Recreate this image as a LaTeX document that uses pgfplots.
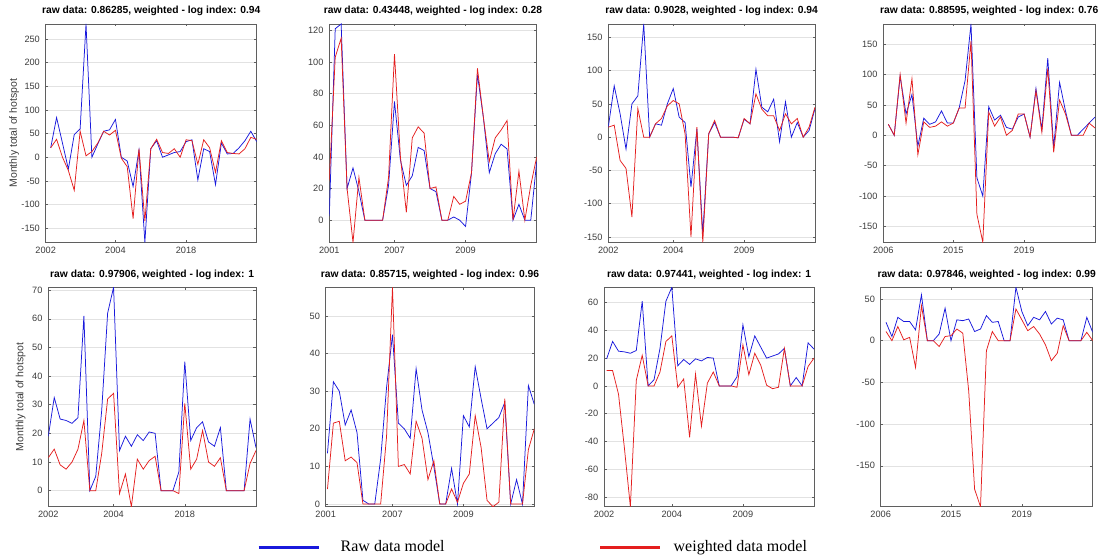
\documentclass[border=0pt]{standalone}
\usepackage{pgfplots}
\pgfplotsset{compat=1.18}
\usepackage{pgfplotstable}
\usepackage{fontspec}
\setmainfont{Liberation Serif}
\newfontfamily\arial{Liberation Sans}
\definecolor{rawblue}{RGB}{25,25,220}
\definecolor{wred}{RGB}{228,30,30}
\definecolor{axgray}{RGB}{95,95,95}
\definecolor{gridgray}{RGB}{226,226,226}
\definecolor{lblgray}{RGB}{60,60,60}

\pgfplotstableread{
x r w
1 20 20
2 84 38
3 30 0
4 -25 -28
5 48 -70
6 60 55
7 282 3
8 0 12
9 28 30
10 55 55
11 58 47
12 80 57
13 0 -2
14 -8 -20
15 -62 -130
16 15 18
17 -180 -135
18 18 18
19 35 38
20 0 10
21 5 8
22 10 18
23 12 0
24 33 37
25 37 35
26 -48 -15
27 18 37
28 12 20
29 -58 -32
30 30 35
31 7 10
32 8 8
33 20 7
34 35 18
35 55 42
36 33 38
}\tA

\pgfplotstableread{
x r w
1 2.5 25
2 121 103
3 124 115
4 20 20
5 33 -14
6 18 27
7 0 0
8 0 0
9 0 0
10 0 0
11 22 27
12 75 105
13 38 40
14 22 5
15 28 52
16 46 59
17 44 55
18 20 20
19 18 21
20 0 0
21 0 0
22 2 15
23 0 10
24 -4 12
25 30 30
26 92 96
27 65 65
28 30 37
29 42 52
30 48 57
31 45 63
32 0 0
33 10 31
34 0 0
35 0 22
36 37 40
}\tB

\pgfplotstableread{
x r w
1 15 15
2 77 18
3 35 -35
4 -18 -47
5 50 -120
6 62 43
7 170 0
8 0 0
9 20 20
10 18 28
11 50 47
12 73 55
13 30 50
14 22 5
15 -75 -150
16 12 15
17 -145 -158
18 5 5
19 22 25
20 0 0
21 0 0
22 0 0
23 -1 -1
24 27 28
25 20 20
26 102 65
27 45 42
28 38 32
29 57 32
30 -7 10
31 53 35
32 0 20
33 22 28
34 0 0
35 10 15
36 43 45
}\tC

\pgfplotstableread{
x r w
1 18 18
2 0 0
3 97 100
4 35 20
5 67 93
6 -18 -32
7 28 22
8 18 13
9 22 15
10 40 22
11 20 15
12 20 20
13 45 45
14 90 45
15 183 155
16 -70 -130
17 -100 -176
18 47 38
19 25 15
20 33 30
21 13 0
22 10 8
23 30 35
24 35 35
25 -3 -3
26 77 73
27 10 5
28 127 110
29 -20 -28
30 87 58
31 40 35
32 0 0
33 0 0
34 10 0
35 20 20
36 30 12
}\tD

\pgfplotstableread{
x r w
1 19 11.5
2 32.5 14.5
3 25 9
4 24.5 7.5
5 23.5 10
6 25.5 14.5
7 61 24.5
8 0 0
9 5 0
10 28 13
11 62 32
12 71 34
13 14 -1
14 19 5.8
15 15.5 -5.6
16 19.5 11
17 17.5 7.5
18 20.5 10.5
19 20 12
20 0 0
21 0 0
22 0 0
23 6.5 -1
24 45 30.5
25 17.5 7.5
26 22 11
27 24 21
28 17 10
29 15.5 8.5
30 22 11.5
31 0 0
32 0 0
33 0 0
34 0 0
35 25 9.5
36 15 14
}\tE

\pgfplotstableread{
x r w
1 13.5 4
2 32.5 21.5
3 30 22
4 21 11.5
5 25 12.5
6 19 11
7 1 0
8 0 0
9 0 0
10 12 0
11 31 18
12 45 57.6
13 21.5 10
14 20 10.5
15 17.5 8
16 36 22
17 25 17.5
18 19 6.5
19 10 11.5
20 0 0
21 0 0
22 9.5 4
23 0 0.5
24 23.5 5.5
25 20.5 8
26 36.5 23.5
27 28 15
28 20 1
29 21.5 -0.7
30 23 0.5
31 27 28
32 0 0
33 6.5 0
34 0 0
35 31.5 14.5
36 26.5 20
}\tF

\pgfplotstableread{
x r w
1 19.5 11
2 32 11
3 25 -6
4 24.5 -45
5 23.5 -87
6 25.5 4
7 61 22
8 0 0
9 4.5 0
10 27 10
11 61 32
12 71 36
13 14.5 -1
14 19 5
15 15.5 -37
16 19.5 8.5
17 18 -29
18 20.5 2
19 20 10
20 0 0
21 0 0
22 0 0
23 6.5 -1
24 44 29.5
25 21 8
26 36 23.5
27 28 15
28 20 0.5
29 21.5 -2
30 23 -1
31 27 27
32 0 0
33 6 0
34 0 0
35 31 14
36 26.5 20
}\tG

\pgfplotstableread{
x r w
1 22 11
2 5 0
3 28 17
4 23 1
5 23 4
6 13 -32
7 55 42
8 0 0
9 0 0
10 8 -7
11 39 5
12 0 6
13 25 14
14 24 9
15 26 -60
16 11 -178
17 14 -199
18 30 -12
19 22 11
20 23 0
21 0 0
22 0 0
23 64 38
24 35 25
25 18 12
26 28 17
27 25 8
28 35 -5
29 20 -24
30 27 -15
31 25 18
32 0 0
33 0 0
34 0 0
35 28 10
36 10 0
}\tH

\pgfplotsset{
  panel/.style={
    scale only axis,
    anchor=south west,
    axis line style={axgray, line width=0.6pt},
    tick style={axgray, line width=0.5pt},
    tick align=inside,
    major tick length=2.5pt,
    ymajorgrids,
    grid style={gridgray, line width=0.5pt},
    ticklabel style={font=\arial\fontsize{9.2}{11}\selectfont, text=lblgray},
    /pgf/number format/assume math mode=true,
    yticklabel style={xshift=-2.3pt},
    xticklabel style={yshift=-1.3pt},
    title style={font=\arial\bfseries\fontsize{10.3}{12}\selectfont, at={(0.5,1)}, anchor=base, yshift=4pt},
    ylabel style={font=\arial\fontsize{10.5}{12}\selectfont, text=lblgray, anchor=center},
    xmax=36,
    every axis plot/.append style={line width=0.75pt, mark=none},
  },
}

\begin{document}
\begin{tikzpicture}[x=1pt,y=1pt]
\path[use as bounding box] (0,0) rectangle (1105,559);

% ---------- row 1 ----------
\begin{axis}[panel, at={(45.7pt,316.7pt)}, width=211pt, height=218.3pt,
  xmin=0.15, ymin=-180, ymax=282,
  ytick={-150,-100,-50,0,50,100,150,200,250},
  xtick={0.15,12,24}, xticklabels={2002,2004,2018},
  title={raw data: 0.86285, weighted - log index: 0.94},
  ylabel={Monthly total of hotspot},
  ylabel style={at={(axis description cs:-0.150,0.5)}}]
\addplot[rawblue] table[x=x,y=r]{\tA};
\addplot[wred] table[x=x,y=w]{\tA};
\end{axis}

\begin{axis}[panel, at={(329.3pt,316.7pt)}, width=207.4pt, height=218.3pt,
  xmin=1, ymin=-14, ymax=124,
  ytick={0,20,40,60,80,100,120},
  xtick={1,12,24}, xticklabels={2001,2007,2009},
  title={raw data: 0.43448, weighted - log index: 0.28}]
\addplot[rawblue] table[x=x,y=r]{\tB};
\addplot[wred] table[x=x,y=w]{\tB};
\end{axis}

\begin{axis}[panel, at={(608.3pt,316.7pt)}, width=206.7pt, height=218.3pt,
  xmin=1, ymin=-158, ymax=170,
  ytick={-150,-100,-50,0,50,100,150},
  xtick={1,12,24}, xticklabels={2002,2004,2009},
  title={raw data: 0.9028, weighted - log index: 0.94}]
\addplot[rawblue] table[x=x,y=r]{\tC};
\addplot[wred] table[x=x,y=w]{\tC};
\end{axis}

\begin{axis}[panel, at={(883.3pt,316.7pt)}, width=211.7pt, height=218.3pt,
  xmin=0.15, ymin=-176, ymax=183,
  ytick={-150,-100,-50,0,50,100,150},
  xtick={0.15,12,24}, xticklabels={2006,2015,2019},
  title={raw data: 0.88595, weighted - log index: 0.76}]
\addplot[rawblue] table[x=x,y=r]{\tD};
\addplot[wred] table[x=x,y=w]{\tD};
\end{axis}

% ---------- row 2 ----------
\begin{axis}[panel, at={(48.3pt,52.3pt)}, width=207.7pt, height=219.4pt,
  xmin=1, ymin=-5.6, ymax=71,
  ytick={0,10,20,30,40,50,60,70},
  xtick={1,12,24}, xticklabels={2002,2004,2018},
  title={raw data: 0.97906, weighted - log index: 1},
  ylabel={Monthly total of hotspot},
  ylabel style={at={(axis description cs:-0.133,0.5)}},
  legend columns=2,
  legend image code/.code={\draw[#1, line width=3pt] (0pt,0pt) -- (60pt,0pt);},
  legend style={draw=none, fill=none, inner sep=0pt,
    font=\rmfamily\fontsize{16}{19}\selectfont,
    at={(axis description cs:1.0048,-0.1837)}, anchor=west,
    nodes={inner sep=0pt},
    /tikz/column 1/.style={column sep=20.5pt},
    /tikz/column 2/.style={column sep=154pt},
    /tikz/column 3/.style={column sep=12pt}}]
\addplot[rawblue] table[x=x,y=r]{\tE};
\addplot[wred] table[x=x,y=w]{\tE};
\legend{Raw data model, weighted data model}
\end{axis}

\begin{axis}[panel, at={(325.7pt,52.3pt)}, width=208.6pt, height=219.4pt,
  xmin=0.7, ymin=-0.7, ymax=57.6,
  ytick={0,10,20,30,40,50},
  xtick={0.7,12,24}, xticklabels={2001,2007,2009},
  title={raw data: 0.85715, weighted - log index: 0.96}]
\addplot[rawblue] table[x=x,y=r]{\tF};
\addplot[wred] table[x=x,y=w]{\tF};
\end{axis}

\begin{axis}[panel, at={(604pt,52.3pt)}, width=210pt, height=219.4pt,
  xmin=0.55, ymin=-87, ymax=71,
  ytick={-80,-60,-40,-20,0,20,40,60},
  xtick={0.55,12,24}, xticklabels={2002,2004,2009},
  title={raw data: 0.97441, weighted - log index: 1}]
\addplot[rawblue] table[x=x,y=r]{\tG};
\addplot[wred] table[x=x,y=w]{\tG};
\end{axis}

\begin{axis}[panel, at={(880.7pt,52.3pt)}, width=212pt, height=219.4pt,
  xmin=0.1, ymin=-199, ymax=64,
  ytick={-150,-100,-50,0,50},
  xtick={0.1,12,24}, xticklabels={2006,2015,2019},
  title={raw data: 0.97846, weighted - log index: 0.99}]
\addplot[rawblue] table[x=x,y=r]{\tH};
\addplot[wred] table[x=x,y=w]{\tH};
\end{axis}
\end{tikzpicture}
\end{document}
